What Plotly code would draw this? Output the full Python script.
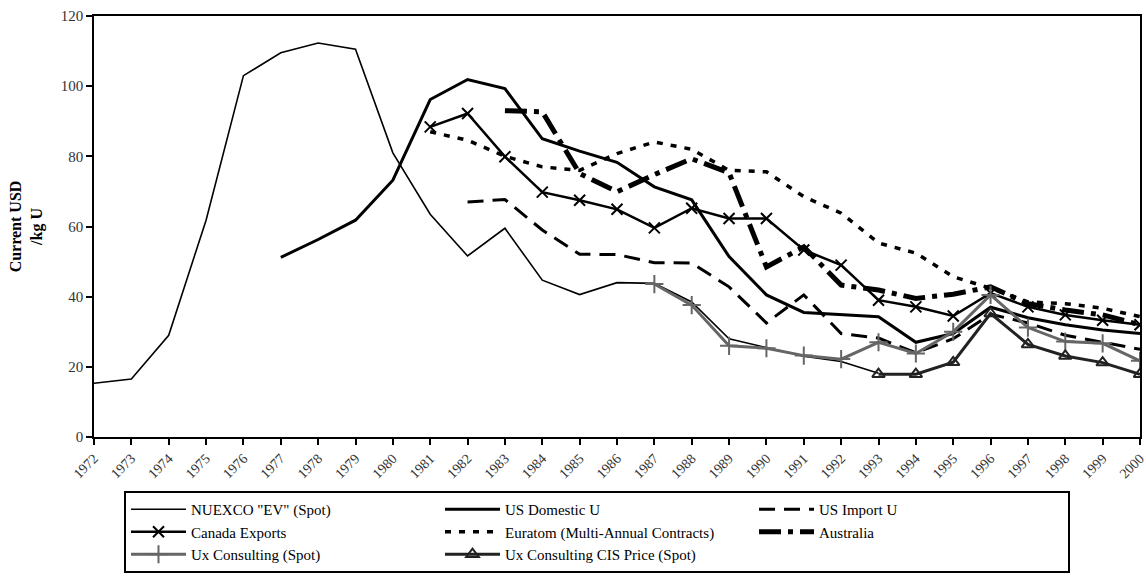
import plotly.graph_objects as go

years = list(range(1972, 2001))

nuexco = [15.3, 16.5, 29.0, 61.8, 103.0, 109.5, 112.3, 110.5, 81.0, 63.5,
          51.6, 59.5, 44.7, 40.6, 44.0, 43.8, 38.5, 28.0, 25.5, 23.0,
          21.5, 18.2, None, None, None, None, None, None, None]

us_domestic = [None, None, None, None, None, 51.2, 56.3, 61.8, 73.2, 96.2,
               101.9, 99.3, 85.0, 81.5, 78.3, 71.3, 67.6, 51.4, 40.5, 35.5,
               35.0, 34.3, 27.0, 29.5, 37.0, 34.0, 32.0, 30.5, 29.5]

us_import = [None, None, None, None, None, None, None, None, None, None,
             67.0, 67.7, 59.0, 52.1, 52.0, 49.7, 49.6, 42.8, 32.5, 40.5,
             29.5, 28.2, 24.0, 28.0, 35.0, 32.5, 29.0, 27.0, 25.0]

canada = [None, None, None, None, None, None, None, None, None, 88.4,
          92.2, 79.9, 69.8, 67.5, 64.9, 59.6, 65.2, 62.3, 62.3, 53.3,
          49.0, 39.0, 37.1, 34.5, 41.0, 37.1, 34.8, 33.3, 32.0]

euratom = [None, None, None, None, None, None, None, None, None, 87.0,
           84.6, 80.0, 77.0, 76.0, 80.8, 84.1, 82.0, 76.0, 75.6, 68.5,
           63.8, 55.3, 52.4, 45.7, 42.4, 38.5, 38.0, 36.7, 34.3]

australia = [None, None, None, None, None, None, None, None, None, None,
             None, 93.0, 92.7, 75.1, 69.9, 74.8, 79.3, 75.3, 48.5, 54.2,
             43.3, 41.9, 39.5, 40.7, 42.8, 38.0, 36.2, 34.8, 32.0]

ux_spot = [None, None, None, None, None, None, None, None, None, None,
           None, None, None, None, None, 43.6, 37.6, 26.0, 25.3, 23.2,
           22.2, 27.0, 23.8, 30.0, 40.5, 31.2, 27.2, 26.7, 21.7]

ux_cis = [None, None, None, None, None, None, None, None, None, None,
          None, None, None, None, None, None, None, None, None, None,
          None, 17.9, 17.9, 21.3, 35.2, 26.4, 23.1, 21.2, 17.9]

names = ['NUEXCO "EV" (Spot)', 'US Domestic U', 'US Import U', 'Canada Exports',
         'Euratom (Multi-Annual Contracts)', 'Australia', 'Ux Consulting (Spot)',
         'Ux Consulting CIS Price (Spot)']

fig = go.Figure()
fig.add_trace(go.Scatter(x=years, y=nuexco, name=names[0], mode="lines",
                         line=dict(color="black", width=1.6)))
fig.add_trace(go.Scatter(x=years, y=us_domestic, name=names[1], mode="lines",
                         line=dict(color="black", width=3)))
fig.add_trace(go.Scatter(x=years, y=us_import, name=names[2], mode="lines",
                         line=dict(color="black", width=3, dash="16px,9px")))
fig.add_trace(go.Scatter(x=years, y=canada, name=names[3], mode="lines+markers",
                         line=dict(color="black", width=2.5),
                         marker=dict(symbol="x-thin-open", size=11,
                                     line=dict(color="black", width=2))))
fig.add_trace(go.Scatter(x=years, y=euratom, name=names[4], mode="lines",
                         line=dict(color="black", width=3.5, dash="6px,8px")))
fig.add_trace(go.Scatter(x=years, y=australia, name=names[5], mode="lines",
                         line=dict(color="black", width=5, dash="22px,7px,5px,7px")))
fig.add_trace(go.Scatter(x=years, y=ux_spot, name=names[6], mode="lines+markers",
                         line=dict(color="#666666", width=3),
                         marker=dict(symbol="cross-thin-open", size=13,
                                     line=dict(color="#666666", width=2))))
fig.add_trace(go.Scatter(x=years, y=ux_cis, name=names[7], mode="lines+markers",
                         line=dict(color="#222222", width=3),
                         marker=dict(symbol="triangle-up-open", size=11,
                                     line=dict(color="#222222", width=2))))

font_family = "Liberation Serif, Times New Roman, serif"

W, H = 1146, 586

fig.update_layout(
    width=W, height=H,
    margin=dict(l=94, r=6, t=16, b=149),
    paper_bgcolor="white", plot_bgcolor="white",
    font=dict(family=font_family, color="black", size=14),
    showlegend=True,
    legend=dict(
        orientation="h",
        xref="container", yref="container",
        x=124 / W, y=1 - 491 / H, xanchor="left", yanchor="top",
        entrywidth=244, entrywidthmode="pixels",
        itemwidth=55,
        bordercolor="black", borderwidth=2,
        bgcolor="white",
        font=dict(family=font_family, size=15, color="black"),
        tracegroupgap=0,
    ),
    xaxis=dict(
        range=[1972, 2000],
        tickmode="array", tickvals=years, ticktext=[str(y) for y in years],
        tickangle=-45, ticklabeloverflow="allow", automargin=False,
        showgrid=False, zeroline=False,
        showline=True, linecolor="black", linewidth=1.5, mirror=True,
        ticks="outside", ticklen=6, tickcolor="black", tickwidth=1.5,
        tickfont=dict(family=font_family, size=14, color="#333333"),
    ),
    yaxis=dict(
        range=[0, 120], tickvals=[0, 20, 40, 60, 80, 100, 120],
        showgrid=False, zeroline=False, automargin=False,
        showline=True, linecolor="black", linewidth=1.5, mirror=True,
        ticks="outside", ticklen=6, tickcolor="black", tickwidth=1.5,
        tickfont=dict(family=font_family, size=15, color="#333333"),
        title=dict(text="<b>Current USD<br>/kg U</b>",
                   font=dict(family=font_family, size=16, color="black"),
                   standoff=14),
    ),
)

# remove the default page margin so the figure fills the window exactly
fig.write_html("out.html",
               config={"displayModeBar": False},
               post_script="document.body.style.margin='0';"
                           "document.body.style.overflow='hidden';")
